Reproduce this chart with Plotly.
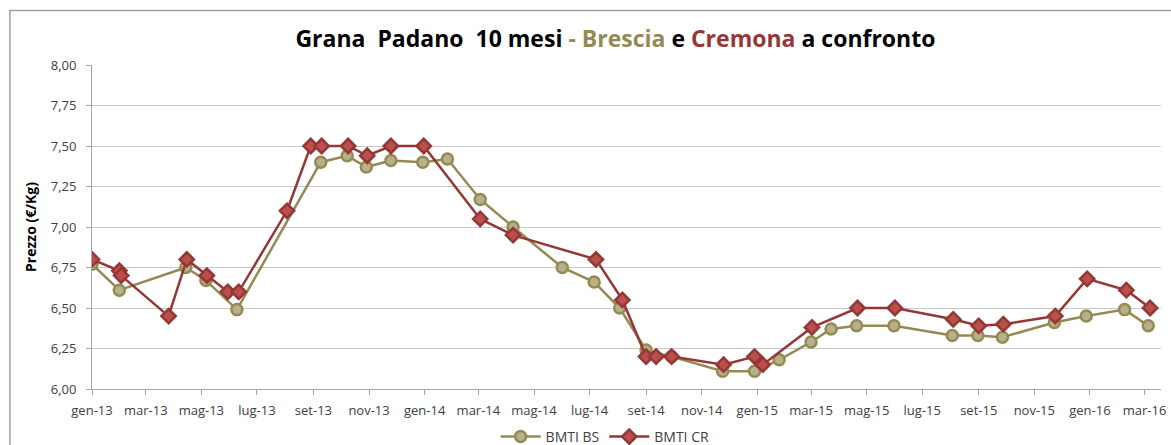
import plotly.graph_objects as go

# ---- data ----
bs_dates = ["2013-01-01", "2013-01-31", "2013-04-14", "2013-05-06", "2013-06-09",
            "2013-09-09", "2013-10-08", "2013-10-29", "2013-11-25", "2013-12-30",
            "2014-01-26", "2014-03-03", "2014-04-08", "2014-06-01", "2014-07-06",
            "2014-08-03", "2014-09-01", "2014-09-29", "2014-11-24", "2014-12-29",
            "2015-01-25", "2015-03-01", "2015-03-23", "2015-04-20", "2015-05-31",
            "2015-08-03", "2015-08-31", "2015-09-27", "2015-11-23", "2015-12-28",
            "2016-02-08", "2016-03-05"]
bs_values = [6.77, 6.61, 6.75, 6.67, 6.49,
             7.40, 7.44, 7.37, 7.41, 7.40,
             7.42, 7.17, 7.00, 6.75, 6.66,
             6.50, 6.24, 6.20, 6.11, 6.11,
             6.18, 6.29, 6.37, 6.39, 6.39,
             6.33, 6.33, 6.32, 6.41, 6.45,
             6.49, 6.39]

cr_dates = ["2013-01-01", "2013-01-31", "2013-02-02", "2013-03-26", "2013-04-15",
            "2013-05-07", "2013-05-30", "2013-06-11", "2013-08-03", "2013-08-29",
            "2013-09-10", "2013-10-09", "2013-10-30", "2013-11-25", "2013-12-31",
            "2014-03-03", "2014-04-08", "2014-07-08", "2014-08-06", "2014-09-01",
            "2014-09-12", "2014-09-29", "2014-11-25", "2014-12-29", "2015-01-07",
            "2015-03-02", "2015-04-21", "2015-06-01", "2015-08-04", "2015-09-01",
            "2015-09-28", "2015-11-24", "2015-12-29", "2016-02-10", "2016-03-07"]
cr_values = [6.80, 6.73, 6.70, 6.45, 6.80,
             6.70, 6.60, 6.60, 7.10, 7.50,
             7.50, 7.50, 7.44, 7.50, 7.50,
             7.05, 6.95, 6.80, 6.55, 6.20,
             6.20, 6.20, 6.15, 6.20, 6.15,
             6.38, 6.50, 6.50, 6.43, 6.39,
             6.40, 6.45, 6.68, 6.61, 6.50]

tick_dates = ["2013-01-01", "2013-03-01", "2013-05-01", "2013-07-01", "2013-09-01",
              "2013-11-01", "2014-01-01", "2014-03-01", "2014-05-01", "2014-07-01",
              "2014-09-01", "2014-11-01", "2015-01-01", "2015-03-01", "2015-05-01",
              "2015-07-01", "2015-09-01", "2015-11-01", "2016-01-01", "2016-03-01"]
tick_labels = ["gen-13", "mar-13", "mag-13", "lug-13", "set-13", "nov-13",
               "gen-14", "mar-14", "mag-14", "lug-14", "set-14", "nov-14",
               "gen-15", "mar-15", "mag-15", "lug-15", "set-15", "nov-15",
               "gen-16", "mar-16"]

OLIVE = "#948A54"
OLIVE_FILL = "#B7B08A"
RED = "#953735"
RED_FILL = "#B9504D"
FONT = "Open Sans"

fig = go.Figure()
fig.add_trace(go.Scatter(
    x=bs_dates, y=bs_values, name="BMTI BS", mode="lines+markers",
    line=dict(color=OLIVE, width=2.5),
    marker=dict(symbol="circle", size=11, color=OLIVE_FILL,
                line=dict(color=OLIVE, width=2.5)),
))
fig.add_trace(go.Scatter(
    x=cr_dates, y=cr_values, name="BMTI CR", mode="lines+markers",
    line=dict(color=RED, width=2.5),
    marker=dict(symbol="diamond", size=11, color=RED_FILL,
                line=dict(color=RED, width=2.5)),
))

title_text = ("<b>Grana  Padano  10 mesi "
              f"<span style='color:{OLIVE}'>- Brescia</span> e "
              f"<span style='color:{RED}'>Cremona</span> a confronto</b>")

fig.update_layout(
    width=1171, height=445,
    margin=dict(l=92, r=10, t=65, b=56, autoexpand=False),
    paper_bgcolor="white", plot_bgcolor="white",
    separators=",.",
    font=dict(family=FONT, size=12, color="#404040"),
    title=dict(text=title_text, x=0.5256, xanchor="center", y=0.912, yanchor="middle",
               font=dict(family=FONT, size=23, color="black")),
    showlegend=True,
    legend=dict(orientation="h", x=0.48, xanchor="center",
                yref="container", y=0.018, yanchor="middle",
                font=dict(family=FONT, size=14, color="#404040"),
                itemwidth=40, bgcolor="rgba(0,0,0,0)"),
    xaxis=dict(
        type="date", range=["2013-01-01", "2016-03-19"],
        tickvals=tick_dates, ticktext=tick_labels,
        showgrid=False, showline=True, linecolor="#A6A6A6", linewidth=1,
        ticks="outside", ticklen=5, tickcolor="#A6A6A6",
        tickfont=dict(family=FONT, size=13, color="#404040"),
        ticklabelstandoff=4,
        zeroline=False,
    ),
    yaxis=dict(
        range=[6, 8], dtick=0.25, tick0=6, tickformat=".2f",
        showgrid=True, gridcolor="#C8C8C8", gridwidth=1,
        showline=True, linecolor="#A6A6A6", linewidth=1,
        ticks="outside", ticklen=5, tickcolor="#A6A6A6",
        tickfont=dict(family=FONT, size=13, color="#404040"),
        ticklabelstandoff=7,
        title=dict(text="<b>Prezzo (€/Kg)</b>", standoff=10,
                   font=dict(family=FONT, size=14, color="black")),
        zeroline=False,
    ),
    shapes=[dict(type="rect", xref="paper", yref="paper",
                 x0=-0.0768, x1=1.2, y0=-0.3, y1=1.168,
                 line=dict(color="#A0A0A0", width=1.5), fillcolor="rgba(0,0,0,0)",
                 layer="below")],
)

fig.write_html("out.html", config={"displayModeBar": False},
               post_script="document.body.style.margin='0';")
